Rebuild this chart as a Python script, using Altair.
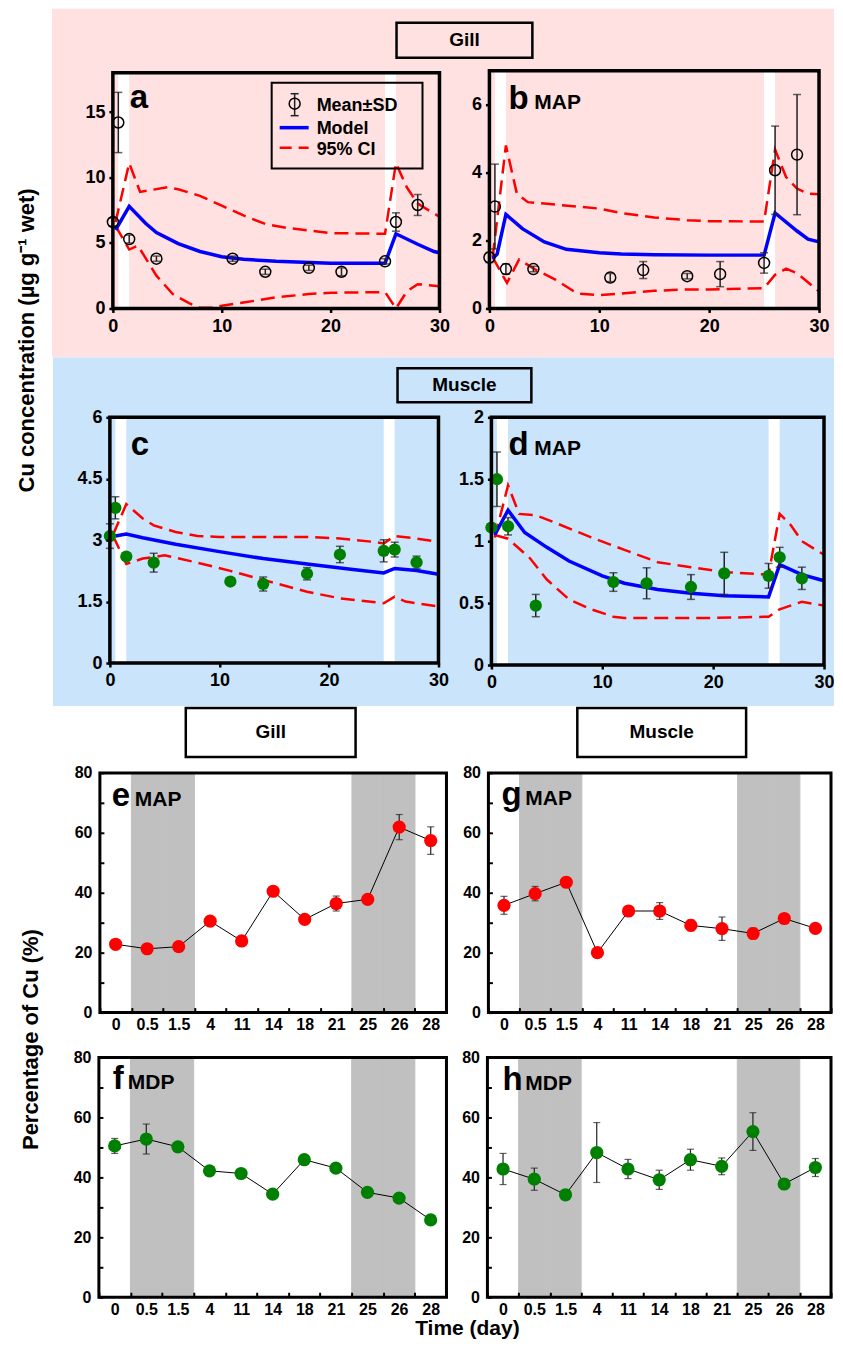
import altair as alt
import pandas as pd

W, H = 827, 1333
FONT = "Liberation Sans"

# ---------------- data ----------------
days = [0, 0.5, 1.5, 4, 11, 14, 18, 21, 25, 26, 28]
band_start = [0.5, 25]
band_end = [1.5, 26]

# panel a  (Gill, total)
a_mean = [6.6, 14.2, 5.3, 3.8, 3.8, 2.8, 3.1, 2.8, 3.6, 6.6, 7.9]
a_sd = [0.3, 2.3, 0.3, 0.2, 0.2, 0.2, 0.2, 0.3, 0.2, 0.7, 0.8]
a_model_day = [0.25, 1.5, 3, 4, 6, 8, 10, 12, 15, 20, 25, 26, 28, 29.5, 30]
a_model_val = [6.0, 7.8, 6.5, 5.8, 4.95, 4.35, 3.95, 3.75, 3.6, 3.45, 3.45, 5.7, 4.9, 4.35, 4.25]
a_up_day = [0.25, 1.5, 2.5, 5, 6, 8, 10, 12, 14, 16, 18, 20, 25, 26, 27, 28, 30]
a_up_val = [6.6, 11.1, 8.9, 9.25, 9.1, 8.6, 7.85, 7.1, 6.45, 6.15, 5.95, 5.75, 5.7, 11.1, 9.25, 8.0, 7.0]
a_lo_day = [0.25, 1.5, 2.3, 4, 5.5, 7, 8, 9, 10, 12, 15, 18, 20, 25, 26, 27, 28, 30]
a_lo_val = [6.3, 4.5, 4.8, 2.5, 1.1, 0.4, 0.05, 0.05, 0.2, 0.45, 0.85, 1.1, 1.2, 1.25, 0.0, 1.3, 1.85, 1.7]

# panel b  (Gill, MAP)
b_mean = [1.5, 3.0, 1.16, 1.16, 0.91, 1.13, 0.95, 1.01, 1.34, 4.07, 4.53]
b_sd = [0.15, 1.25, 0.15, 0.08, 0.12, 0.25, 0.08, 0.37, 0.3, 1.3, 1.77]
b_model_day = [0.3, 0.7, 1.5, 3, 5, 7, 10, 12, 15, 20, 25, 26, 28, 29, 30]
b_model_val = [1.47, 1.6, 2.77, 2.35, 1.96, 1.74, 1.64, 1.6, 1.58, 1.57, 1.57, 2.81, 2.28, 2.04, 1.96]
b_up_day = [0.3, 1.5, 2.5, 3.5, 5, 10, 12, 15, 18, 20, 25, 26, 27, 28, 29, 30]
b_up_val = [1.52, 4.8, 3.38, 3.13, 3.09, 2.94, 2.81, 2.68, 2.6, 2.57, 2.56, 4.68, 3.87, 3.53, 3.38, 3.36]
b_lo_day = [0.3, 1.6, 2.7, 4.2, 6, 8, 10, 12, 15, 18, 20, 25, 26, 27, 28, 30]
b_lo_val = [1.5, 0.75, 1.44, 1.14, 0.85, 0.44, 0.39, 0.44, 0.52, 0.56, 0.56, 0.6, 0.99, 1.17, 1.04, 0.5]

# panel c  (Muscle, total)
c_mean = [3.1, 3.79, 2.6, 2.45, 1.99, 1.93, 2.18, 2.65, 2.74, 2.77, 2.46]
c_sd = [0.3, 0.27, 0.08, 0.23, 0.08, 0.17, 0.15, 0.2, 0.27, 0.18, 0.15]
c_model_day = [0.5, 1.5, 3, 6, 10, 14, 18, 22, 25, 26, 28, 30]
c_model_val = [3.1, 3.15, 3.06, 2.9, 2.72, 2.55, 2.42, 2.29, 2.2, 2.31, 2.26, 2.17]
c_up_day = [0.3, 1.5, 3, 4, 6, 8, 10, 18, 21, 24, 25, 26, 28, 30]
c_up_val = [3.14, 3.88, 3.53, 3.36, 3.2, 3.1, 3.08, 3.08, 3.04, 2.96, 2.92, 3.1, 3.04, 2.96]
c_lo_day = [0.3, 1.5, 3, 5, 8, 11, 14, 18, 21, 25, 26, 27, 30]
c_lo_val = [3.1, 2.42, 2.55, 2.63, 2.45, 2.25, 2.03, 1.74, 1.58, 1.46, 1.62, 1.5, 1.38]

# panel d  (Muscle, MAP)
d_mean = [1.11, 1.50, 1.12, 0.48, 0.67, 0.66, 0.63, 0.74, 0.72, 0.87, 0.70]
d_sd = [0.03, 0.22, 0.07, 0.09, 0.075, 0.125, 0.1, 0.17, 0.1, 0.08, 0.09]
d_model_day = [0.3, 1.5, 3, 5, 7, 10, 12, 15, 18, 21, 25, 26, 28, 30]
d_model_val = [1.05, 1.25, 1.07, 0.95, 0.84, 0.72, 0.66, 0.61, 0.58, 0.56, 0.55, 0.81, 0.73, 0.68]
d_up_day = [0.3, 1.5, 2.5, 4, 6, 9, 12, 15, 18, 21, 25, 26, 27, 28, 30]
d_up_val = [1.03, 1.45, 1.22, 1.21, 1.14, 1.03, 0.93, 0.83, 0.79, 0.75, 0.73, 1.22, 1.13, 1.0, 0.89]
d_lo_day = [0.3, 1.5, 3.5, 5, 7, 9, 11, 12, 20, 25, 26, 28, 30]
d_lo_val = [1.05, 1.02, 0.86, 0.69, 0.53, 0.45, 0.39, 0.38, 0.38, 0.39, 0.45, 0.51, 0.48]

# bottom panels: percentage of Cu
cats = ["0", "0.5", "1.5", "4", "11", "14", "18", "21", "25", "26", "28"]
shade_cats = ["0.5", "1.5", "25", "26"]
e_vals = [22.8, 21.3, 22.0, 30.5, 23.9, 40.5, 31.1, 36.4, 37.8, 61.9, 57.4]
e_sd = [1.0, 1.0, 0.8, 1.0, 0.8, 0.8, 0.8, 2.5, 1.2, 4.2, 4.6]
g_vals = [35.8, 39.7, 43.5, 20.0, 33.9, 33.9, 29.1, 28.0, 26.4, 31.4, 28.1]
g_sd = [3.0, 2.4, 1.0, 1.0, 1.0, 2.8, 1.8, 3.9, 1.8, 1.0, 1.0]
f_vals = [50.5, 52.8, 50.2, 42.2, 41.3, 34.4, 45.9, 43.1, 35.0, 33.1, 25.8]
f_sd = [2.5, 5.0, 1.0, 1.0, 1.0, 1.0, 1.0, 1.5, 1.0, 1.0, 1.0]
h_vals = [42.8, 39.4, 34.2, 48.3, 42.8, 39.2, 45.9, 43.7, 55.3, 37.8, 43.3]
h_sd = [5.2, 3.7, 1.0, 10.0, 3.2, 3.2, 3.5, 2.8, 6.3, 1.0, 3.0]

RED = "#FF0000"
GREEN = "#008000"
BLUE = "#0000FF"
PINK = "#FFE1E1"
LBLUE = "#C9E4FB"
GRAY = "#C0C0C0"


# ---------------- layout (page px -> chart px) ----------------
def pg(x0, x1, y0, y1):
    return (x0 - 8, x1 - 8, y0 - 8, y1 - 8)


P = {
    "a": pg(113, 440, 72, 308),
    "b": pg(490, 820, 70, 308),
    "c": pg(110, 439, 417, 663),
    "d": pg(492, 825, 417, 665),
    "e": pg(100, 447, 773, 1013),
    "g": pg(489, 832, 773, 1013),
    "f": pg(99, 447, 1058, 1298),
    "h": pg(488, 832, 1058, 1298),
}

one = pd.DataFrame({"k": [0]})


def vrect(x0, x1, y0, y1, **kw):
    return alt.Chart(one).mark_rect(**kw).encode(
        x=alt.value(x0), x2=alt.value(x1), y=alt.value(y0), y2=alt.value(y1))


def vrule(x0, x1, y0, y1, **kw):
    return alt.Chart(one).mark_rule(**kw).encode(
        x=alt.value(x0), x2=alt.value(x1), y=alt.value(y0), y2=alt.value(y1))


def vtext(x, y, s, size, **kw):
    return alt.Chart(one).mark_text(text=s, font=FONT, fontWeight="bold", color="black",
                                    fontSize=size, **kw).encode(x=alt.value(x), y=alt.value(y))


def frame(key, sw=3.5):
    x0, x1, y0, y1 = P[key]
    return vrect(x0, x1, y0, y1, fillOpacity=0, stroke="black", strokeWidth=sw)


def ax(**kw):
    base = dict(labelFont=FONT, labelFontWeight="bold", labelColor="black", domain=False,
                grid=False, title=None, tickColor="black", zindex=1, labelFlush=False,
                labelOverlap=False)
    base.update(kw)
    return alt.Axis(**base)


def top_panel(key, ymax, yvals, mean, sd, md, mv, ud, uv, ld, lv, filled):
    x0, x1, y0, y1 = P[key]
    xs = alt.Scale(domain=[0, 30], range=[x0, x1], nice=False, zero=False)
    ys = alt.Scale(domain=[0, ymax], range=[y1, y0], nice=False, zero=False)
    xa = ax(orient="bottom", offset=y1 - H, values=[0, 10, 20, 30], labelFontSize=18,
            tickSize=4, tickWidth=2.5, labelPadding=5)
    ya = ax(orient="left", offset=-x0, values=yvals, labelExpr="'' + datum.value",
            labelFontSize=18, tickSize=4, tickWidth=2.5, labelPadding=4)

    def X(f):
        return alt.X(f, scale=xs, axis=xa)

    def Y(f):
        return alt.Y(f, scale=ys, axis=ya)

    bands = pd.DataFrame({"s": band_start, "e": band_end, "y0": [0, 0], "y1": [ymax, ymax]})
    l_band = alt.Chart(bands).mark_rect(color="white").encode(
        x=X("s:Q"), x2="e:Q", y=Y("y0:Q"), y2="y1:Q")
    up = pd.DataFrame({"x": ud, "y": uv})
    lo = pd.DataFrame({"x": ld, "y": lv})
    mo = pd.DataFrame({"x": md, "y": mv})
    l_up = alt.Chart(up).mark_line(color=RED, strokeWidth=2.5, strokeDash=[14, 7]).encode(
        x=X("x:Q"), y=Y("y:Q"))
    l_lo = alt.Chart(lo).mark_line(color=RED, strokeWidth=2.5, strokeDash=[14, 7]).encode(
        x=X("x:Q"), y=Y("y:Q"))
    l_mo = alt.Chart(mo).mark_line(color=BLUE, strokeWidth=3.5).encode(
        x=X("x:Q"), y=Y("y:Q"))
    pts = pd.DataFrame({"x": days, "m": mean,
                        "lo": [m - s for m, s in zip(mean, sd)],
                        "hi": [m + s for m, s in zip(mean, sd)]})
    l_rule = alt.Chart(pts).mark_rule(color="#222222", strokeWidth=1.5).encode(
        x=X("x:Q"), y=Y("lo:Q"), y2="hi:Q")
    l_cap1 = alt.Chart(pts).mark_tick(orient="horizontal", size=8, thickness=1.5,
                                      color="#222222").encode(x=X("x:Q"), y=Y("lo:Q"))
    l_cap2 = alt.Chart(pts).mark_tick(orient="horizontal", size=8, thickness=1.5,
                                      color="#222222").encode(x=X("x:Q"), y=Y("hi:Q"))
    if filled:
        l_pt = alt.Chart(pts).mark_circle(color=GREEN, size=150, opacity=1).encode(
            x=X("x:Q"), y=Y("m:Q"))
    else:
        l_pt = alt.Chart(pts).mark_point(shape="circle", filled=False, color="black",
                                         size=120, strokeWidth=1.5, opacity=1).encode(
            x=X("x:Q"), y=Y("m:Q"))
    return alt.layer(l_band, l_up, l_lo, l_mo, l_rule, l_cap1, l_cap2, l_pt)


def bottom_panel(key, vals, sds, color):
    x0, x1, y0, y1 = P[key]
    xs = alt.Scale(domain=cats, range=[x0, x1], paddingInner=0, paddingOuter=0)
    ys = alt.Scale(domain=[0, 80], range=[y1, y0], nice=False, zero=False)
    xa = ax(orient="bottom", offset=y1 - H, labelFontSize=16, tickBand="extent",
            tickSize={"expr": "-5"}, tickWidth=2, labelPadding=9, labelAngle=0)
    ya = ax(orient="left", offset=-x0, values=list(range(0, 81, 10)), labelFontSize=16,
            labelExpr="datum.value % 20 == 0 ? datum.label : ''",
            tickSize={"expr": "-4"}, tickWidth=2, labelPadding=12)

    def X(f):
        return alt.X(f, scale=xs, axis=xa)

    def Y(f):
        return alt.Y(f, scale=ys, axis=ya)

    sh = pd.DataFrame({"c": shade_cats, "y0": [0] * 4, "y1": [80] * 4})
    l_sh = alt.Chart(sh).mark_rect(color=GRAY, stroke=GRAY, strokeWidth=1).encode(
        x=X("c:N"), y=Y("y0:Q"), y2="y1:Q")
    pts = pd.DataFrame({"c": cats, "v": vals,
                        "lo": [v - s for v, s in zip(vals, sds)],
                        "hi": [v + s for v, s in zip(vals, sds)],
                        "o": list(range(len(cats)))})
    l_line = alt.Chart(pts).mark_line(color="black", strokeWidth=1).encode(
        x=X("c:N"), y=Y("v:Q"), order="o:Q")
    l_rule = alt.Chart(pts).mark_rule(color="#222222", strokeWidth=1.2).encode(
        x=X("c:N"), y=Y("lo:Q"), y2="hi:Q")
    l_cap1 = alt.Chart(pts).mark_tick(orient="horizontal", size=7, thickness=1.2,
                                      color="#222222").encode(x=X("c:N"), y=Y("lo:Q"))
    l_cap2 = alt.Chart(pts).mark_tick(orient="horizontal", size=7, thickness=1.2,
                                      color="#222222").encode(x=X("c:N"), y=Y("hi:Q"))
    l_pt = alt.Chart(pts).mark_circle(color=color, size=175, opacity=1).encode(
        x=X("c:N"), y=Y("v:Q"))
    return alt.layer(l_sh, l_line, l_rule, l_cap1, l_cap2, l_pt)


layers = []
# section backgrounds
layers.append(vrect(44, W, 0, 349, color=PINK))
layers.append(vrect(45, W, 349, 698, color=LBLUE))

# panels
layers.append(top_panel("a", 18, [0, 5, 10, 15], a_mean, a_sd, a_model_day, a_model_val,
                        a_up_day, a_up_val, a_lo_day, a_lo_val, False))
layers.append(top_panel("b", 7, [0, 2, 4, 6], b_mean, b_sd, b_model_day, b_model_val,
                        b_up_day, b_up_val, b_lo_day, b_lo_val, False))
layers.append(top_panel("c", 6, [0, 1.5, 3, 4.5, 6], c_mean, c_sd, c_model_day, c_model_val,
                        c_up_day, c_up_val, c_lo_day, c_lo_val, True))
layers.append(top_panel("d", 2, [0, 0.5, 1, 1.5, 2], d_mean, d_sd, d_model_day, d_model_val,
                        d_up_day, d_up_val, d_lo_day, d_lo_val, True))
layers.append(bottom_panel("e", e_vals, e_sd, RED))
layers.append(bottom_panel("g", g_vals, g_sd, RED))
layers.append(bottom_panel("f", f_vals, f_sd, GREEN))
layers.append(bottom_panel("h", h_vals, h_sd, GREEN))

for k in P:
    layers.append(frame(k, 3.5 if k in "abcd" else 3))


# panel letters
def letter(xp, yp, s, size=33):
    return vtext(xp - 8, yp - 8, s, size, align="left", baseline="alphabetic")


layers += [
    letter(130, 107, "a"),
    letter(509, 108, "b"), letter(535, 108, "MAP", 21),
    letter(131, 455, "c"),
    letter(509, 455, "d"), letter(535, 455, "MAP", 21),
    letter(112, 806, "e"), letter(135, 806, "MAP", 21),
    letter(502, 805, "g"), letter(526, 805, "MAP", 21),
    letter(113, 1090, "f"), letter(128, 1090, "MDP", 21),
    letter(503, 1091, "h"), letter(526, 1091, "MDP", 21),
]

# legend in panel a
layers += [
    vrect(264, 415, 74, 160, fillOpacity=0, stroke="black", strokeWidth=2),
    vrule(287, 287, 85, 107, color="#222222", strokeWidth=1.5),
    vrule(283, 291, 85, 85, color="#222222", strokeWidth=1.5),
    vrule(283, 291, 107, 107, color="#222222", strokeWidth=1.5),
    alt.Chart(one).mark_point(shape="circle", filled=False, color="black", size=120,
                              strokeWidth=1.5, opacity=1).encode(x=alt.value(287), y=alt.value(95)),
    vrule(272, 301, 119, 119, color=BLUE, strokeWidth=3.5),
    vrule(272, 301, 139, 139, color=RED, strokeWidth=2.5, strokeDash=[12, 7]),
    vtext(309, 102, "Mean±SD", 18, align="left", baseline="alphabetic"),
    vtext(309, 125, "Model", 18, align="left", baseline="alphabetic"),
    vtext(309, 146, "95% CI", 18, align="left", baseline="alphabetic"),
]


# section title boxes
def tbox(x0, x1, y0, y1, s):
    return [vrect(x0 - 8, x1 - 8, y0 - 8, y1 - 8, fillOpacity=0, stroke="black", strokeWidth=2.5),
            vtext((x0 + x1) / 2 - 8, (y0 + y1) / 2 - 8, s, 19, align="center", baseline="middle")]


layers += tbox(397, 533, 22, 57, "Gill")
layers += tbox(398, 532, 368, 402, "Muscle")
layers += tbox(186, 356, 708, 757, "Gill")
layers += tbox(578, 747, 708, 757, "Muscle")

# axis titles
layers.append(vtext(27 - 8, 340 - 8, "Cu concentration (µg g⁻¹ wet)", 22, angle=270,
                    align="center", baseline="middle"))
layers.append(vtext(31 - 8, 1040 - 8, "Percentage of Cu (%)", 22, angle=270,
                    align="center", baseline="middle"))
layers.append(vtext(468 - 8, 1322, "Time (day)", 21, align="center", baseline="middle"))

chart = alt.layer(*layers).resolve_scale(x="independent", y="independent").properties(
    width=W, height=H, padding=0
).configure_view(strokeOpacity=0)

chart.save("out.html", embed_options={"renderer": "svg", "actions": False})
